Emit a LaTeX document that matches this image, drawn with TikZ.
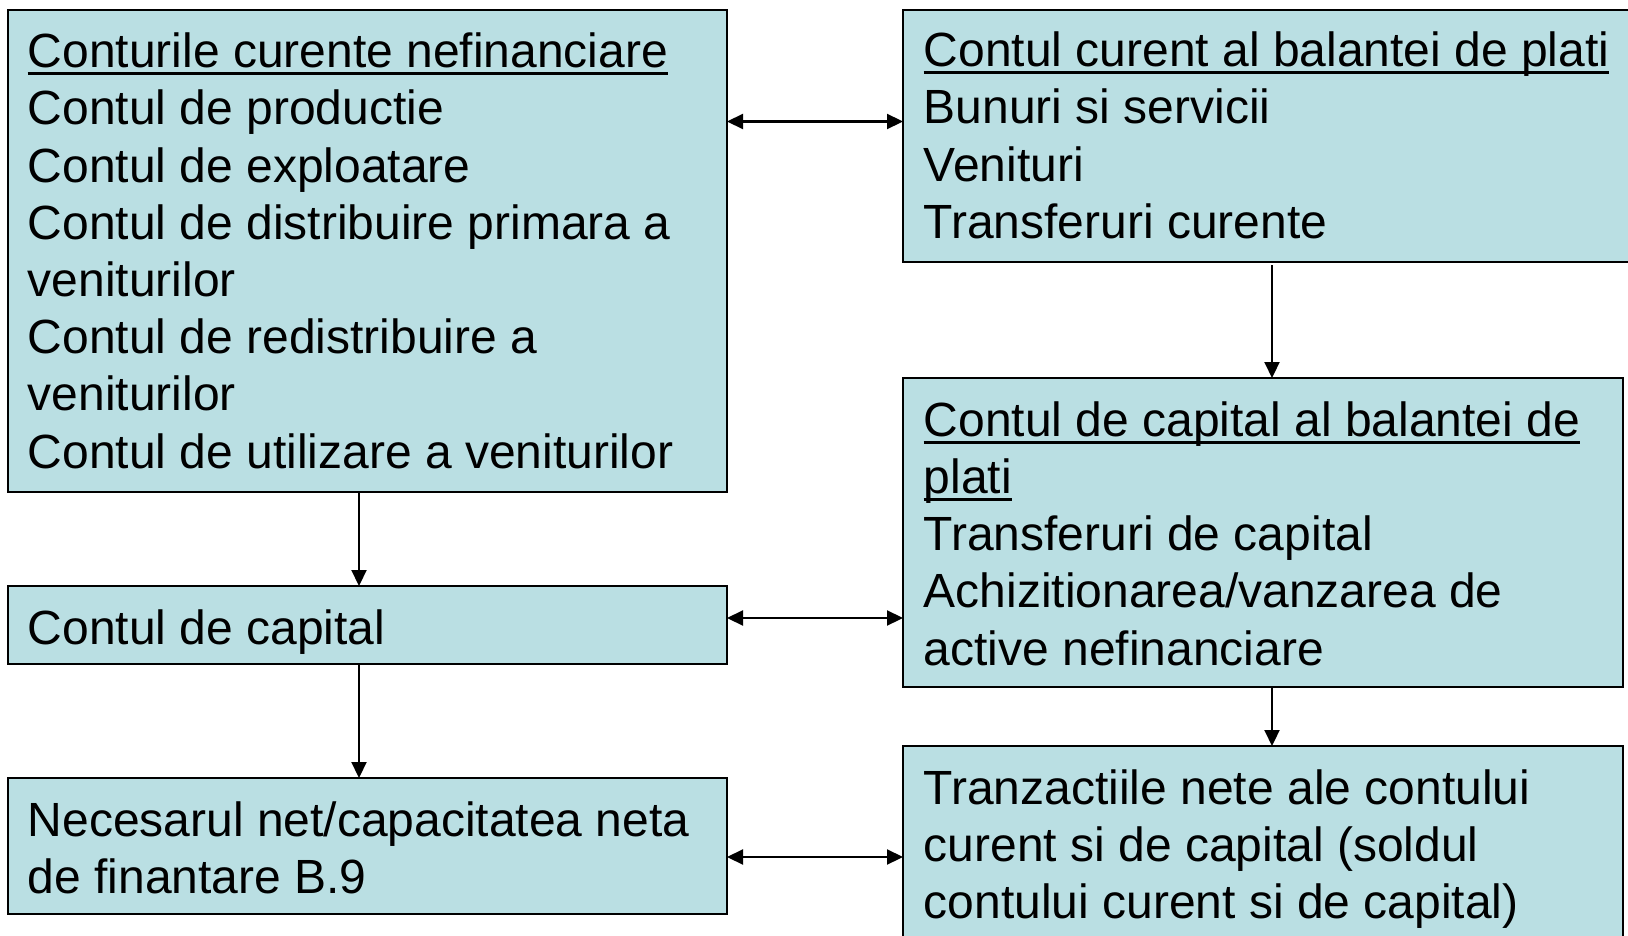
\documentclass[tikz,border=0pt]{standalone}
\usepackage{fontspec}
\setmainfont{Liberation Sans}
\usetikzlibrary{arrows.meta}
\definecolor{boxfill}{RGB}{186,223,227}
\newcommand\myul[1]{\leavevmode\setbox0\hbox{#1}\rlap{\rule[-7.3pt]{\wd0}{2.8pt}}\box0}
\begin{document}
\begin{tikzpicture}[x=1pt,y=-1pt,
  box/.style={draw=black, line width=2.4pt, fill=boxfill, inner sep=0pt, outer sep=0pt, anchor=north west},
  txt/.style={inner sep=0pt, anchor=north west, align=left, font=\fontsize{48}{57.2}\selectfont},
  arr/.style={line width=2.2pt, -{Triangle[length=16pt,width=15pt]}},
  dbl/.style={line width=2.2pt, {Triangle[length=16pt,width=15pt]}-{Triangle[length=16pt,width=15pt]}}]
\clip (0,0) rectangle (1628,936);
\fill[white] (0,0) rectangle (1628,936);
% boxes
\node[box, minimum width=719pt, minimum height=482pt] (A) at (8,10) {};
\node[box, minimum width=737pt, minimum height=252pt] (B) at (903,10) {};
\node[box, minimum width=719pt, minimum height=78pt] (C) at (8,586) {};
\node[box, minimum width=720pt, minimum height=309pt] (E) at (903,378) {};
\node[box, minimum width=719pt, minimum height=136pt] (D) at (8,778) {};
\node[box, minimum width=720pt, minimum height=204pt] (F) at (903,746) {};
% texts
\node[txt] (tA) at (27.5,27.5) {\strut\myul{Conturile curente nefinanciare}\\
\strut Contul de productie\\
\strut Contul de exploatare\\
\strut Contul de distribuire primara a\\
\strut veniturilor\\
\strut Contul de redistribuire a\\
\strut veniturilor\\
\strut Contul de utilizare a veniturilor};
\node[txt] (tB) at (923.5,26.5) {\strut\myul{Contul curent al balantei de plati}\\
\strut Bunuri si servicii\\
\strut Venituri\\
\strut Transferuri curente};
\node[txt] (tC) at (27.5,604) {\strut Contul de capital};
\node[txt] (tE) at (923.5,396) {\strut\myul{Contul de capital al balantei de}\\
\strut\myul{plati}\\
\strut Transferuri de capital\\
\strut Achizitionarea/vanzarea de\\
\strut active nefinanciare};
\node[txt] (tD) at (27.5,796) {\strut Necesarul net/capacitatea neta\\
\strut de finantare B.9};
\node[txt] (tF) at (923.5,764) {\strut Tranzactiile nete ale contului\\
\strut curent si de capital (soldul\\
\strut contului curent si de capital)};
% reference coordinates for connectors
\coordinate (lx) at (359,0);
\coordinate (rx) at (1272,0);
\coordinate (h1) at (0,121.5);
\coordinate (h2) at (0,618);
\coordinate (h3) at (0,857);
% connectors
\draw[arr] (A.south -| lx) -- (C.north -| lx);
\draw[arr] (C.south -| lx) -- (D.north -| lx);
\draw[arr, shorten <=3pt] (B.south -| rx) -- (E.north -| rx);
\draw[arr] (E.south -| rx) -- (F.north -| rx);
\draw[dbl] (A.east |- h1) -- (B.west |- h1);
\draw[dbl] (C.east |- h2) -- (E.west |- h2);
\draw[dbl] (D.east |- h3) -- (F.west |- h3);
\end{tikzpicture}
\end{document}
